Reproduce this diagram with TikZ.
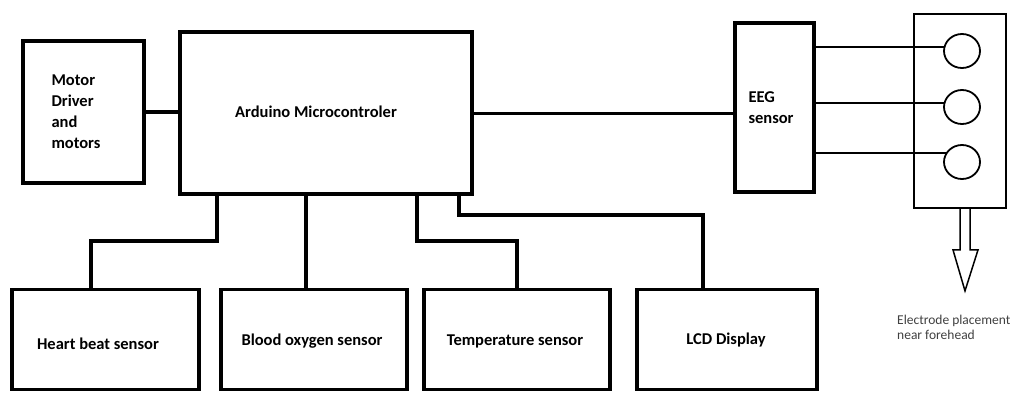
\documentclass[tikz,border=0pt]{standalone}
\usepackage{fontspec}
\setmainfont{Carlito}
\usetikzlibrary{shapes.geometric,calc}
\begin{document}
\begin{tikzpicture}[x=1pt,y=-1pt,
  txt/.style={font=\fontsize{16.5}{21}\selectfont\bfseries},
  box/.style={draw, line width=3.6pt, inner sep=0pt, txt},
  thinbox/.style={draw, line width=1.8pt, inner sep=0pt},
  conn/.style={line width=3.6pt},
  wire/.style={line width=1.8pt},
  elec/.style={draw, ellipse, line width=1.8pt, minimum width=36pt, minimum height=34pt, inner sep=0pt}]
\useasboundingbox (0,0) rectangle (1018,392);
% boxes
\node[box, minimum width=121pt, minimum height=142pt, align=left, text width=64pt] (mot) at (83.5,112) {Motor\\Driver\\and\\motors};
\node[box, minimum width=292pt, minimum height=162pt] (ard) at (326,113) {};
\node[txt] (ardt) at (316,112) {Arduino Microcontroler};
\node[box, minimum width=79pt, minimum height=169pt, align=left, text width=52pt] (eeg) at (774.5,107.5) {EEG\\sensor};
\node[thinbox, minimum width=92pt, minimum height=194pt] (el) at (960,111) {};
\node[elec] (c1) at (962,51) {};
\node[elec] (c2) at (962,107) {};
\node[elec] (c3) at (962,162) {};
\node[box, minimum width=187pt, minimum height=100pt] (hb) at (105.5,339.5) {};
\node[txt] (hbt) at (98,344) {Heart beat sensor};
\node[box, minimum width=186pt, minimum height=100pt] (bo) at (314,339.5) {};
\node[txt] (bot) at (312,341) {Blood oxygen sensor};
\node[box, minimum width=186pt, minimum height=100pt] (tp) at (517,339.5) {};
\node[txt] (tpt) at (515,341) {Temperature sensor};
\node[box, minimum width=180pt, minimum height=100pt] (lcd) at (727,339.5) {};
\node[txt] (lcdt) at (726,340) {LCD Display};
\node[font=\fontsize{13.5}{15}\selectfont, text=black!75, align=left, anchor=north west, inner sep=0pt] (lab) at (897,315) {Electrode placement\\near forehead};
% connectors
\draw[conn] (mot.east) -- (mot.east -| ard.west);
\draw[line width=3pt] (ard.east) -- (ard.east -| eeg.west);
\draw[wire] (eeg.east |- c1.167) -- (c1.167);
\draw[wire] (eeg.east |- c2.167) -- (c2.167);
\draw[wire] (eeg.east |- c3.150) -- (c3.150);
\draw[conn] ([xshift=39pt]ard.south west) -- ++(0,45) -| ([xshift=-14.5pt]hb.north);
\coordinate (bx) at ([xshift=-8pt]bo.north);
\draw[conn] (bx) -- (bx |- ard.south);
\draw[conn] ([xshift=239pt]ard.south west) -- ++(0,45) -| (tp.north);
\draw[conn] ([xshift=281pt]ard.south west) -- ++(0,19) -| ([xshift=-24pt]lcd.north);
% hollow arrow
\coordinate (ab) at ([xshift=5pt]el.south);
\draw[line width=1.5pt, line join=miter] ($(ab)+(-5,0)$) -- ++(0,41) -- ++(-7,0) -- ($(ab)+(0,82)$) -- ($(ab)+(13,41)$) -- ++(-8,0) -- ++(0,-41);
\end{tikzpicture}
\end{document}
